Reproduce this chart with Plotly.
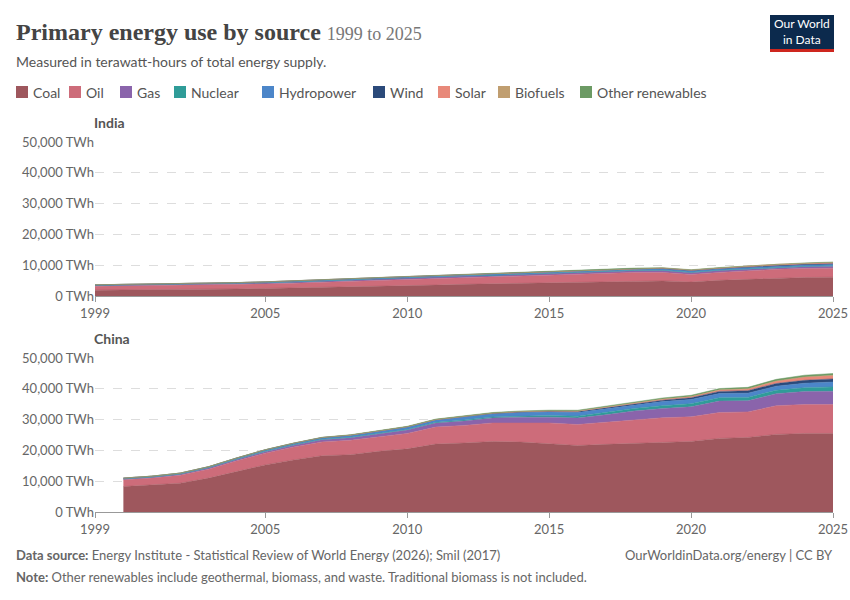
import plotly.graph_objects as go
from plotly.subplots import make_subplots

sources = ['Coal', 'Oil', 'Gas', 'Nuclear', 'Hydropower', 'Wind', 'Solar', 'Biofuels', 'Other renewables']
colors = ['#9e575d', '#cd6c7a', '#8a64ab', '#2f9c98', '#4c86c9', '#2b4a7a', '#e8897a', '#c09e70', '#6c9a64']

india_years = list(range(1999, 2026))
india = {
    'Coal': [1900, 1950, 2000, 2050, 2150, 2300, 2450, 2600, 2800, 3000, 3250, 3400, 3550, 3800, 3950, 4300, 4400, 4550, 4700, 4950, 4900, 4550, 5100, 5400, 5800, 6000, 6100],
    'Oil': [1250, 1300, 1320, 1350, 1380, 1450, 1480, 1550, 1650, 1750, 1850, 1900, 2000, 2100, 2150, 2200, 2350, 2500, 2600, 2700, 2750, 2450, 2550, 2750, 2850, 2900, 2950],
    'Gas': [250, 260, 270, 280, 300, 310, 330, 350, 380, 400, 500, 600, 600, 550, 500, 490, 500, 530, 560, 580, 590, 580, 600, 560, 590, 620, 630],
    'Nuclear': [30, 40, 45, 50, 50, 50, 50, 50, 45, 40, 45, 65, 85, 85, 85, 90, 95, 100, 100, 100, 115, 115, 120, 120, 120, 130, 140],
    'Hydropower': [200, 190, 190, 180, 200, 220, 260, 300, 310, 290, 270, 290, 340, 310, 350, 350, 340, 330, 340, 380, 430, 430, 430, 460, 420, 420, 430],
    'Wind': [5, 5, 5, 5, 10, 15, 20, 25, 35, 40, 45, 50, 60, 75, 80, 90, 90, 115, 135, 155, 160, 150, 165, 175, 200, 210, 230],
    'Solar': [0, 0, 0, 0, 0, 0, 0, 0, 0, 0, 0, 0, 5, 10, 10, 15, 20, 35, 60, 100, 130, 150, 180, 230, 280, 330, 400],
    'Biofuels': [0, 0, 0, 0, 0, 0, 0, 0, 0, 0, 0, 0, 0, 0, 0, 0, 5, 5, 5, 5, 10, 10, 10, 15, 20, 25, 30],
    'Other renewables': [20, 20, 25, 25, 30, 30, 35, 40, 45, 50, 55, 60, 65, 70, 75, 75, 80, 85, 90, 90, 95, 95, 100, 105, 110, 115, 120],
}

china_years = list(range(2000, 2026))
china = {
    'Coal': [8260, 8700, 9350, 11000, 13200, 15300, 16900, 18260, 18600, 19700, 20500, 22060, 22400, 22900, 22700, 22200, 21600, 21960, 22400, 22600, 22900, 23900, 24200, 25200, 25500, 25500],
    'Oil': [2200, 2300, 2600, 2900, 3400, 3800, 4200, 4500, 4700, 4800, 5000, 5500, 5700, 6000, 6300, 6700, 6800, 7200, 7600, 8000, 8000, 8400, 8300, 9300, 9400, 9400],
    'Gas': [250, 280, 300, 350, 420, 500, 580, 700, 800, 900, 1100, 1300, 1450, 1650, 1800, 1900, 2100, 2400, 2800, 3000, 3250, 3700, 3600, 3900, 4200, 4300],
    'Nuclear': [50, 55, 70, 130, 150, 160, 165, 180, 200, 200, 220, 260, 280, 330, 390, 500, 620, 720, 820, 930, 1000, 1090, 1100, 1150, 1250, 1400],
    'Hydropower': [250, 290, 300, 310, 380, 430, 470, 520, 620, 650, 740, 720, 900, 960, 1100, 1150, 1200, 1210, 1240, 1320, 1380, 1360, 1380, 1310, 1460, 1600],
    'Wind': [0, 0, 0, 0, 0, 5, 10, 15, 30, 60, 90, 120, 160, 200, 230, 260, 300, 350, 400, 450, 550, 700, 800, 850, 950, 1000],
    'Solar': [0, 0, 0, 0, 0, 0, 0, 0, 0, 0, 5, 10, 15, 30, 50, 80, 130, 200, 270, 330, 380, 470, 590, 800, 1050, 1100],
    'Biofuels': [0, 0, 0, 0, 0, 5, 10, 15, 20, 20, 25, 25, 25, 30, 30, 30, 30, 35, 40, 45, 45, 50, 50, 55, 60, 60],
    'Other renewables': [30, 35, 40, 45, 50, 60, 70, 80, 100, 120, 140, 160, 180, 200, 220, 240, 260, 290, 320, 350, 380, 420, 450, 500, 550, 600],
}

y_ticks = [0, 10000, 20000, 30000, 40000, 50000]
y_labels = ['0 TWh', '10,000 TWh', '20,000 TWh', '30,000 TWh', '40,000 TWh', '50,000 TWh']
x_ticks = [1999, 2005, 2010, 2015, 2020, 2025]

# legend item left edges (px)
legend_x = [16, 69, 120, 174, 262, 373, 438, 498, 580]

W, H = 850, 600
ML, MR, MT, MB = 95, 17, 142, 88
PW, PH = W - ML - MR, H - MT - MB


def px(x):
    return (x - ML) / PW


def py(y):
    return (H - MB - y) / PH


fig = make_subplots(rows=2, cols=1)
fig.update_layout(yaxis=dict(domain=[py(296), 1]), yaxis2=dict(domain=[0, py(358)]))

for i, s in enumerate(sources):
    fig.add_trace(go.Scatter(x=india_years, y=india[s], name=s, stackgroup='in', mode='lines',
                             line=dict(width=0.5, color=colors[i]), fillcolor=colors[i]), row=1, col=1)
    fig.add_trace(go.Scatter(x=china_years, y=china[s], name=s, stackgroup='cn', mode='lines',
                             line=dict(width=0.5, color=colors[i]), fillcolor=colors[i]), row=2, col=1)

for r in (1, 2):
    fig.update_xaxes(range=[1999, 2025], tickvals=x_ticks, showgrid=False, showline=True, automargin=False,
                     linecolor='#999', ticks='outside', tickcolor='#999', ticklen=5,
                     tickfont=dict(color='#666', size=13), row=r, col=1)
    fig.update_yaxes(range=[0, 50000], tickvals=y_ticks, ticktext=y_labels, showgrid=True, automargin=False,
                     gridcolor='#ddd', griddash='dash', zeroline=False,
                     tickfont=dict(color='#666', size=13), row=r, col=1)

fig.update_layout(
    width=W, height=H, plot_bgcolor='white', paper_bgcolor='white', showlegend=False,
    font=dict(family='Lato, sans-serif', color='#555'),
    margin=dict(l=ML, r=MR, t=MT, b=MB),
)


def txt(text, x, y, size, color='#555', xanchor='left', family=None):
    f = dict(size=size, color=color)
    if family:
        f['family'] = family
    fig.add_annotation(text=text, xref='paper', yref='paper', x=px(x), y=py(y), xanchor=xanchor,
                       yanchor='middle', showarrow=False, font=f)


for s, c, lx in zip(sources, colors, legend_x):
    fig.add_shape(type='rect', xref='paper', yref='paper', x0=px(lx), x1=px(lx + 12), y0=py(86), y1=py(98),
                  fillcolor=c, line=dict(width=0))
    txt(s, lx + 15, 92, 14)

txt('<b>Primary energy use by source</b> <span style="font-size:18px;color:#777">1999 to 2025</span>',
    14, 32, 24, '#444', family='Liberation Serif, serif')
txt('Measured in terawatt-hours of total energy supply.', 14, 61, 14)
txt('<b>India</b>', 92, 122, 14)
txt('<b>China</b>', 92, 338, 14)
txt('<b>Data source:</b> Energy Institute - Statistical Review of World Energy (2026); Smil (2017)', 14, 555, 13, '#666')
txt('OurWorldinData.org/energy | CC BY', 835, 555, 13, '#666', xanchor='right')
txt('<b>Note:</b> Other renewables include geothermal, biomass, and waste. Traditional biomass is not included.',
    14, 577, 13, '#666')

fig.add_shape(type='rect', xref='paper', yref='paper', x0=px(770), x1=px(834), y0=py(15), y1=py(49),
              fillcolor='#0c2a4d', line=dict(width=0))
fig.add_shape(type='rect', xref='paper', yref='paper', x0=px(770), x1=px(834), y0=py(49), y1=py(52),
              fillcolor='#ce261e', line=dict(width=0))
txt('Our World<br>in Data', 802, 32, 12, 'white', xanchor='center')

fig.write_html('out.html', config={'displayModeBar': False},
               post_script="document.body.style.margin='0';")
